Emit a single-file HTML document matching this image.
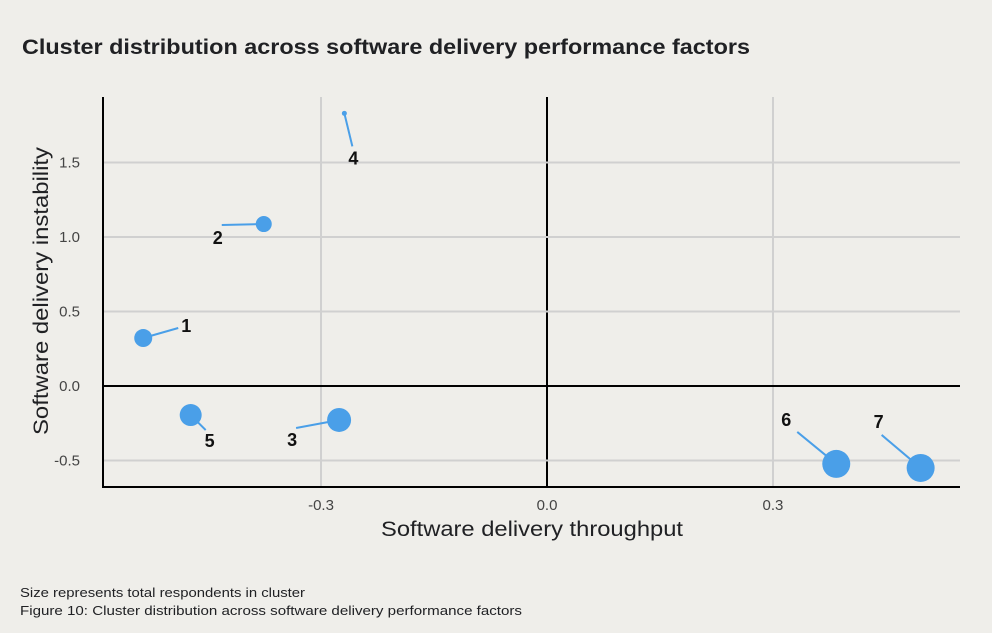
<!DOCTYPE html>
<html><head><meta charset="utf-8"><style>
body{margin:0;background:#efeeea;width:992px;height:633px;overflow:hidden;font-family:"Liberation Sans",sans-serif;}
svg{position:absolute;left:0;top:0}
</style></head><body>
<svg width="992" height="633">
<text x="22" y="54" font-size="21" font-weight="bold" fill="#202124" textLength="728" lengthAdjust="spacingAndGlyphs">Cluster distribution across software delivery performance factors</text>
<g id="grid"></g><g id="marks"></g>
<text x="532" y="536" text-anchor="middle" font-size="21" fill="#202124" textLength="302" lengthAdjust="spacingAndGlyphs">Software delivery throughput</text>
<text transform="translate(48,291) rotate(-90)" text-anchor="middle" font-size="21" fill="#202124" textLength="288" lengthAdjust="spacingAndGlyphs">Software delivery instability</text>
<text x="20" y="597" font-size="13" fill="#202124" textLength="285" lengthAdjust="spacingAndGlyphs">Size represents total respondents in cluster</text>
<text x="20" y="615" font-size="13" fill="#202124" textLength="502" lengthAdjust="spacingAndGlyphs">Figure 10: Cluster distribution across software delivery performance factors</text>
</svg>
<script>
const clusterIds=["1","2","3","4","5","6","7"];
const throughput=[-0.536,-0.376,-0.276,-0.269,-0.473,0.384,0.496];
const instability=[0.322,1.087,-0.228,1.83,-0.195,-0.523,-0.55];
const sizes=[9,8,12,2.5,11,14,14];
const xTicks=[-0.3,0.0,0.3];
const xTickLabels=["-0.3","0.0","0.3"];
const yTicks=[-0.5,0,0.5,1.0,1.5];
const yTickLabels=["-0.5","0.0","0.5","1.0","1.5"];
// label offsets (px) relative to point
const lineDx=[35,-42,-43,8,15,-39,-39];
const lineDy=[-10,1,8,33,15,-32,-33];
const txtDx=[43,-46,-47,9,19,-50,-42];
const txtDy=[-6,20,26,51,32,-38,-40];
const NS="http://www.w3.org/2000/svg";
const X=v=>547+v*753.3, Y=v=>386-v*149;
function el(t,a,p){const e=document.createElementNS(NS,t);for(const k in a)e.setAttribute(k,a[k]);p.appendChild(e);return e;}
const g=document.getElementById('grid'),m=document.getElementById('marks');
xTicks.forEach((t,i)=>{
 const l=el('line',{x1:X(t),x2:X(t),y1:97,y2:487,stroke:t===0?'#000':'#d0d0d0','stroke-width':2},g);
 
 
 const tx=el('text',{x:X(t),y:510,'text-anchor':'middle','font-size':15,fill:'#444'},g);tx.textContent=xTickLabels[i];
 
 
});
yTicks.forEach((t,i)=>{
 const l=el('line',{x1:103,x2:960,y1:Y(t),y2:Y(t),stroke:t===0?'#000':'#d0d0d0','stroke-width':2},g);
 
 
 const tx=el('text',{x:80,y:Y(t)+5,'text-anchor':'end','font-size':15,fill:'#444'},g);tx.textContent=yTickLabels[i];
 
 
});
const ax=el('path',{d:'M103 97V487H960',fill:'none',stroke:'#000','stroke-width':2},g);


clusterIds.forEach((id,i)=>{
 const cx=X(throughput[i]),cy=Y(instability[i]);
 const ln=el('line',{x1:cx,y1:cy,x2:cx+lineDx[i],y2:cy+lineDy[i],stroke:'#4a9fe8','stroke-width':2},m);
 
 
 const c=el('circle',{cx:cx,cy:cy,r:sizes[i],fill:'#4a9fe8'},m);
 
 
 const t=el('text',{x:cx+txtDx[i],y:cy+txtDy[i],'text-anchor':'middle','font-size':18,'font-weight':'bold',fill:'#111'},m);t.textContent=id;
 
 
});
</script>
</body></html>
